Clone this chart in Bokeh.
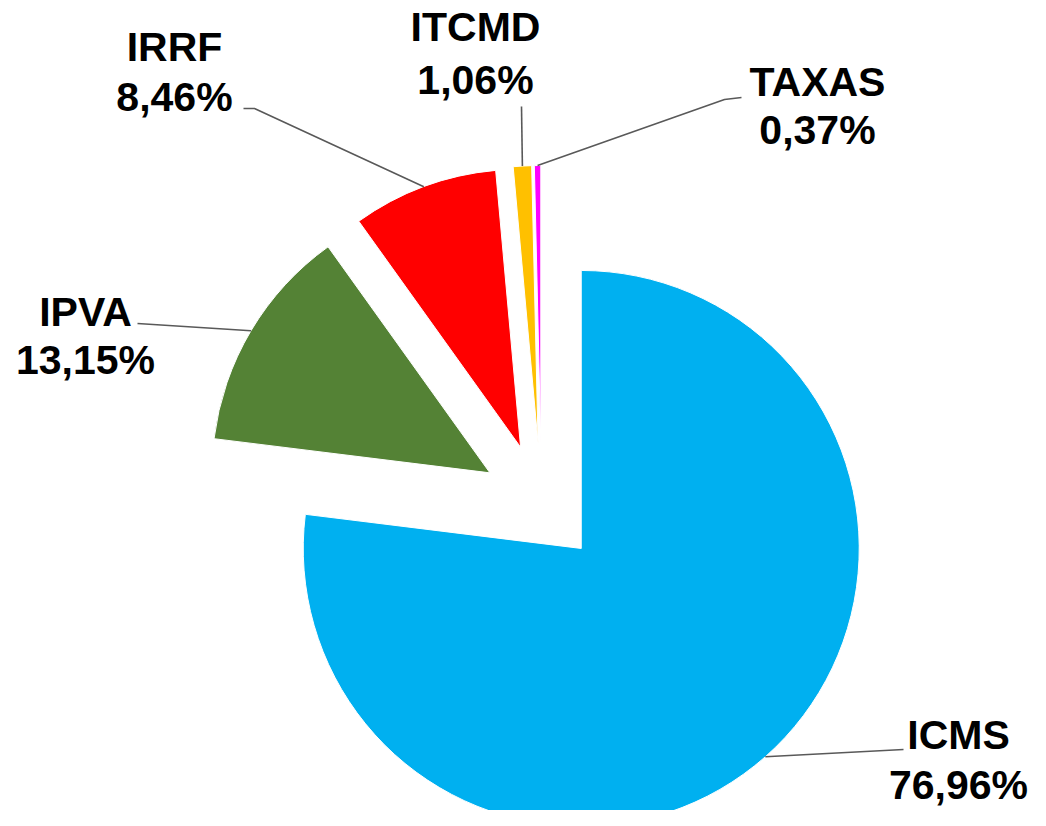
import math
from bokeh.plotting import figure
from bokeh.models import ColumnDataSource, Range1d
from bokeh.core.properties import value
from bokeh.embed import file_html
from bokeh.resources import INLINE

# ---- data ----
categories = ["ICMS", "IPVA", "IRRF", "ITCMD", "TAXAS"]
shares = [76.96, 13.15, 8.46, 1.06, 0.37]
pct_labels = ["76,96%", "13,15%", "8,46%", "1,06%", "0,37%"]
colors = ["#00B0F0", "#548235", "#FF0000", "#FFC000", "#FF00FF"]

# ---- layout (pixels of the 1046x826 picture) ----
W, H = 1030, 810
PAGE_H = 826
def Y(sy):
    return PAGE_H - sy

TEXT_DY = 16             # baseline correction for the text renderer

CX, CY = 541, Y(503)     # pie centre
R = 278                  # radius
EXPLODE = 60             # explosion distance

# label placement: centre x, baseline line1, baseline line2 (picture px)
label_pos = {
    "ICMS": (958, 750, 800),
    "IPVA": (85, 327, 375),
    "IRRF": (174, 62, 112),
    "ITCMD": (475, 42, 95),
    "TAXAS": (817, 97, 145),
}
# leader line start points near label, with optional shoulder
leader_start = {
    "ICMS": [(903, 749)],
    "IPVA": [(137, 323)],
    "IRRF": [(243, 108), (254, 108)],
    "ITCMD": [(521, 106)],
    "TAXAS": [(741, 97), (724, 99)],
}

p = figure(width=W, height=H, output_backend="svg", toolbar_location=None,
           x_range=Range1d(0, W), y_range=Range1d(Y(H), Y(0)),
           min_border=0)
p.axis.visible = False
p.grid.visible = False
p.outline_line_color = None
p.background_fill_color = "white"

total = sum(shares)
xs, ys, starts, ends = [], [], [], []
mids = []
cum = 0.0
for s in shares:
    a_start = math.pi / 2 - 2 * math.pi * (cum + s) / total
    a_end = math.pi / 2 - 2 * math.pi * cum / total
    mid = (a_start + a_end) / 2
    cx = CX + EXPLODE * math.cos(mid)
    cy = CY + EXPLODE * math.sin(mid)
    xs.append(cx); ys.append(cy)
    starts.append(a_start); ends.append(a_end)
    mids.append((cx + R * math.cos(mid), cy + R * math.sin(mid)))
    cum += s

src = ColumnDataSource(dict(x=xs, y=ys, start=starts, end=ends, color=colors,
                            cat=categories))
p.wedge(x="x", y="y", radius=R, start_angle="start", end_angle="end",
        direction="anticlock", fill_color="color", line_color="white",
        line_width=1, source=src)

# yellow text box partly visible at bottom-left of the reference
p.quad(left=[-20], right=[400], bottom=[-20], top=[Y(810)],
       fill_color="#FFFF00", line_color=None)

# leader lines
lx, ly = [], []
for cat, m in zip(categories, mids):
    pts = leader_start[cat]
    lx.append([q[0] for q in pts] + [m[0]])
    ly.append([Y(q[1]) for q in pts] + [m[1]])
p.multi_line(xs=lx, ys=ly, line_color="#595959", line_width=1.6)

# labels
tx, ty, tt = [], [], []
for cat, pl in zip(categories, pct_labels):
    cxl, b1, b2 = label_pos[cat]
    tx += [cxl, cxl]
    ty += [Y(b1 - TEXT_DY), Y(b2 - TEXT_DY)]
    tt += [cat, pl]
p.text(x=tx, y=ty, text=tt, text_align="center", text_baseline="alphabetic",
       text_font=value("Liberation Sans"), text_font_style="bold",
       text_font_size="41px", text_color="black")

open("out.html", "w").write(file_html(p, INLINE))
